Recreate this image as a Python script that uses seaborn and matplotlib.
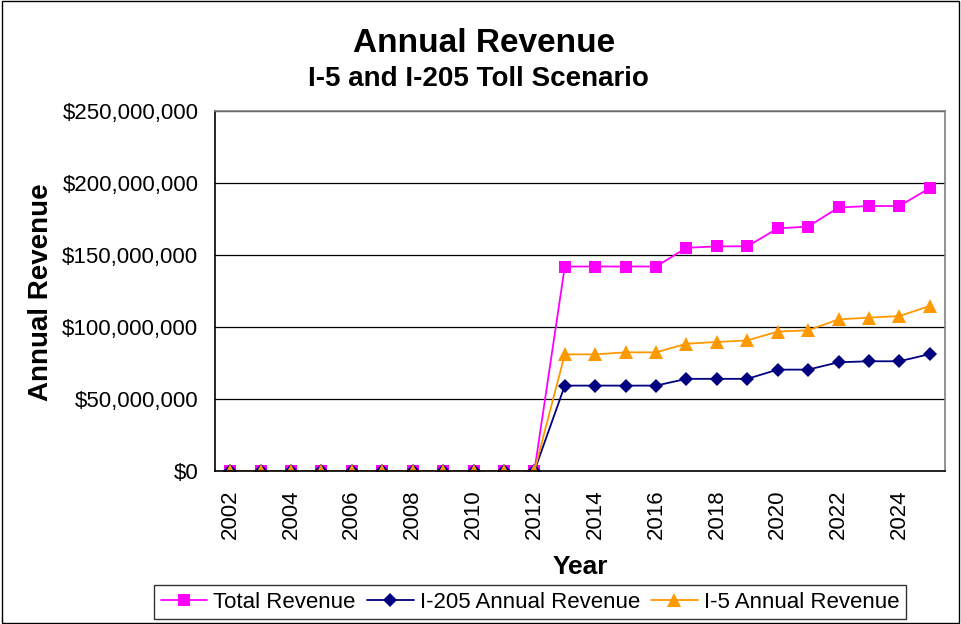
import matplotlib
matplotlib.use("Agg")
import matplotlib.pyplot as plt
import matplotlib.ticker as mticker
import seaborn as sns
import pandas as pd

years = list(range(2002, 2026))
total_revenue = [0]*11 + [142, 142, 142, 142, 155, 156, 156, 168.5, 169.7, 183, 184, 184, 196.5]
i205_revenue = [0]*11 + [59.3, 59.3, 59.3, 59.3, 64, 64, 64, 70.4, 70.4, 75.5, 76.2, 76.2, 81.2]
i5_revenue = [0]*11 + [81, 81, 82.4, 82.4, 88.4, 89.6, 90.7, 96.8, 97.7, 105.3, 106.5, 107.6, 114.6]
series_names = ["Total Revenue", "I-205 Annual Revenue", "I-5 Annual Revenue"]
series_values = [total_revenue, i205_revenue, i5_revenue]
colors = ["#FF00FF", "#000080", "#FF9900"]
markers = ["s", "D", "^"]
marker_sizes = [8.5, 7.5, 10.5]

sns.set_theme(style="white")
plt.rcParams['font.family'] = ['Liberation Sans', 'DejaVu Sans']
for k in ['text.color', 'axes.labelcolor', 'xtick.color', 'ytick.color']:
    plt.rcParams[k] = 'black'

fig = plt.figure(figsize=(9.61, 6.24), dpi=100)
ax = fig.add_axes([215/961, 1-471/624, (945-215)/961, (471-111)/624])

for name, vals, c, m, ms in zip(series_names, series_values, colors, markers, marker_sizes):
    df = pd.DataFrame({"Year": years, "Revenue": [v * 1e6 for v in vals]})
    sns.lineplot(data=df, x="Year", y="Revenue", color=c, marker=m, markersize=ms,
                 markeredgewidth=0, linewidth=1.3, ax=ax, label=name)

ax.set_xlim(2001.5, 2025.5)
ax.set_ylim(0, 250e6)
ax.yaxis.set_major_locator(mticker.MultipleLocator(50e6))
ax.yaxis.set_major_formatter(mticker.FuncFormatter(lambda v, p: f"${v:,.0f}"))
ax.set_xticks(list(range(2002, 2026, 2)))
ax.set_xticks([y + 0.5 for y in range(2001, 2026)], minor=True)
ax.tick_params(axis='x', which='major', length=0, labelrotation=90, labelsize=16, pad=13)
ax.tick_params(axis='x', which='minor', length=6, width=1, color='black', direction='inout')
ax.tick_params(axis='y', which='major', length=6, width=1, color='black', direction='inout',
               labelsize=16, pad=9)
ax.grid(axis='y', color='black', linewidth=0.9)
for s in ['left', 'bottom']:
    ax.spines[s].set_color('black')
    ax.spines[s].set_linewidth(1.2)
for s in ['top', 'right']:
    ax.spines[s].set_color('#808080')
    ax.spines[s].set_linewidth(1.2)

ax.set_xlabel("")
ax.set_ylabel("")
fig.text(580/961, 1-567/624, "Year", ha='center', va='center', fontsize=19, fontweight='bold')
fig.text(41/961, 1-292/624, "Annual Revenue", ha='center', va='center', rotation=90,
         fontsize=20, fontweight='bold')
fig.text(484/961, 1-44/624, "Annual Revenue", ha='center', va='center', fontsize=24, fontweight='bold')
fig.text(478/961, 1-79/624, "I-5 and I-205 Toll Scenario", ha='center', va='center',
         fontsize=20, fontweight='bold')

leg = ax.legend(loc='center', bbox_to_anchor=((530-215)/730, (471-602)/360), ncol=3, frameon=True,
                fancybox=False, edgecolor='black', fontsize=16, handlelength=2.1,
                columnspacing=0.5, handletextpad=0.27, borderpad=0.3, borderaxespad=0)
leg.get_frame().set_linewidth(1)

fig.patches.append(plt.Rectangle((0.002, 0.002), 0.996, 0.996, transform=fig.transFigure,
                                 fill=False, edgecolor='black', linewidth=1))
fig.savefig("out.png", dpi=100)
